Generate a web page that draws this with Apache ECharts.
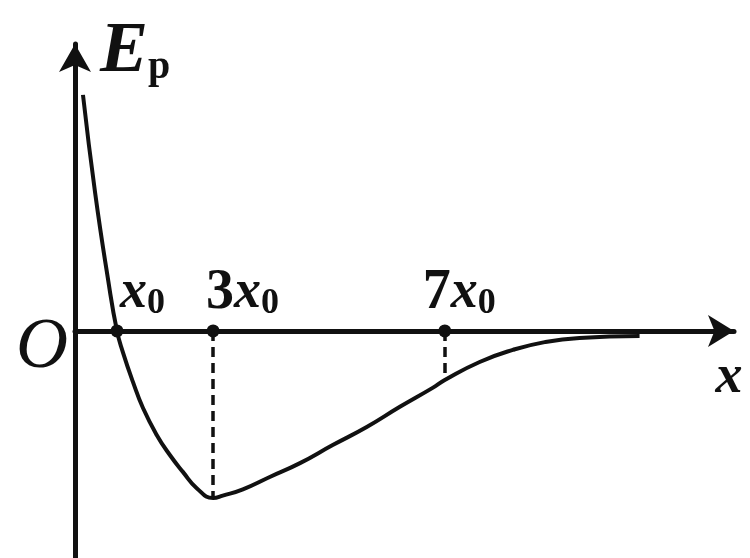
<!DOCTYPE html>
<html>
<head>
<meta charset="utf-8">
<script src="https://cdn.jsdelivr.net/npm/echarts@6/dist/echarts.min.js"></script>
<style>
  html, body { margin: 0; padding: 0; background: #fff; }
  #main { width: 750px; height: 558px; }
</style>
</head>
<body>
<div id="main"></div>
<script>
// 势能曲线 Ep - x（示意图，单位为图上任意单位）
var curveX = [0.19, 0.48, 0.79, 1.00, 1.14, 1.38, 1.62, 1.95, 2.26, 2.57, 2.90, 3.29, 3.52, 4.00, 4.64, 5.36, 6.14, 6.95, 7.74, 8.52, 8.81, 9.64, 10.43, 11.19, 12.02, 13.45];
var curveY = [7.84, 4.58, 1.69, 0.00, -0.70, -1.69, -2.56, -3.46, -4.12, -4.68, -5.22, -5.55, -5.47, -5.26, -4.85, -4.39, -3.79, -3.19, -2.52, -1.89, -1.63, -1.03, -0.63, -0.37, -0.23, -0.17];

// 横轴上标出的点
var markX = [1.00, 3.29, 8.81];
var markNames = ['x0', '3x0', '7x0'];
// 需要画竖直虚线的点（3x0, 7x0）
var dashX = [3.29, 8.81];

var labelShift = [3, -7, -22];

var serif = 'Liberation Serif';

function yAt(x) {
    var i = curveX.indexOf(x);
    return curveY[i];
}

function richName(s) {
    // '3x0' -> {n|3}{i|x}{s|0}
    var k = s.indexOf('x');
    var out = '';
    if (k > 0) out += '{n|' + s.slice(0, k) + '}';
    out += '{i|x}{s|' + s.slice(k + 1) + '}';
    return out;
}

var curveData = curveX.map(function (x, i) { return [x, curveY[i]]; });

var markData = markX.map(function (x, i) {
    return {
        value: [x, 0],
        name: markNames[i],
        label: { offset: [labelShift[i], 0] }
    };
});

var dashData = dashX.map(function (x) {
    return [{ coord: [x, 0] }, { coord: [x, yAt(x)] }];
});

var richStyle = {
    n: { fontFamily: serif, fontWeight: 'bold', fontSize: 56, lineHeight: 56, color: '#111' },
    i: { fontFamily: serif, fontWeight: 'bold', fontStyle: 'italic', fontSize: 54, lineHeight: 56, color: '#111' },
    s: { fontFamily: serif, fontWeight: 'bold', fontSize: 36, lineHeight: 16, verticalAlign: 'bottom', color: '#111' }
};

var option = {
    backgroundColor: '#fff',
    animation: false,
    grid: { left: 75, right: 16, top: 44, bottom: 0, containLabel: false, outerBoundsMode: 'none' },
    xAxis: {
        type: 'value',
        min: 0,
        max: 15.7,
        name: 'x',
        nameLocation: 'end',
        nameGap: -5,
        nameTextStyle: {
            fontFamily: serif, fontWeight: 'bold', fontStyle: 'italic',
            fontSize: 54, lineHeight: 54, color: '#111',
            align: 'center', verticalAlign: 'top', padding: [20, 0, 0, 0]
        },
        axisLine: {
            onZero: true,
            symbol: ['none', 'arrow'],
            symbolSize: [24, 26],
            lineStyle: { color: '#111', width: 5 }
        },
        axisTick: { show: false },
        splitLine: { show: false },
        axisLabel: { show: false }
    },
    yAxis: {
        type: 'value',
        min: -7.54,
        max: 9.53,
        name: '{e|E}{p|p}',
        nameLocation: 'end',
        nameGap: 28,
        nameTextStyle: {
            align: 'left', verticalAlign: 'top', padding: [0, 0, 0, 25],
            rich: {
                e: { fontFamily: serif, fontWeight: 'bold', fontStyle: 'italic', fontSize: 72, lineHeight: 72, color: '#111' },
                p: { fontFamily: serif, fontWeight: 'bold', fontSize: 40, lineHeight: 30, verticalAlign: 'bottom', color: '#111' }
            }
        },
        axisLine: {
            onZero: true,
            symbol: ['none', 'arrow'],
            symbolSize: [24, 28],
            lineStyle: { color: '#111', width: 5 }
        },
        axisTick: { show: false },
        splitLine: { show: false },
        axisLabel: { show: false }
    },
    series: [
        {
            type: 'line',
            data: curveData,
            showSymbol: false,
            smooth: true,
            lineStyle: { color: '#111', width: 4 },
            markLine: {
                silent: true,
                symbol: 'none',
                label: { show: false },
                lineStyle: { color: '#111', width: 3.5, type: [10, 6] },
                data: dashData
            },
            z: 3
        },
        {
            type: 'scatter',
            data: markData,
            symbolSize: 13,
            itemStyle: { color: '#111', opacity: 1 },
            label: {
                show: true,
                position: 'top',
                align: 'left',
                distance: 3,
                formatter: function (p) { return richName(p.name); },
                rich: richStyle
            },
            z: 4
        },
        {
            // 原点 O
            type: 'scatter',
            data: [{ value: [0, 0], name: 'O' }],
            symbolSize: 0,
            itemStyle: { opacity: 1 },
            label: {
                show: true,
                position: 'left',
                distance: 7,
                offset: [0, 17],
                formatter: '{b}',
                fontFamily: serif, fontStyle: 'italic', fontSize: 72, color: '#111'
            },
            z: 4
        }
    ]
};

var chart = echarts.init(document.getElementById('main'));
chart.setOption(option);
</script>
</body>
</html>
